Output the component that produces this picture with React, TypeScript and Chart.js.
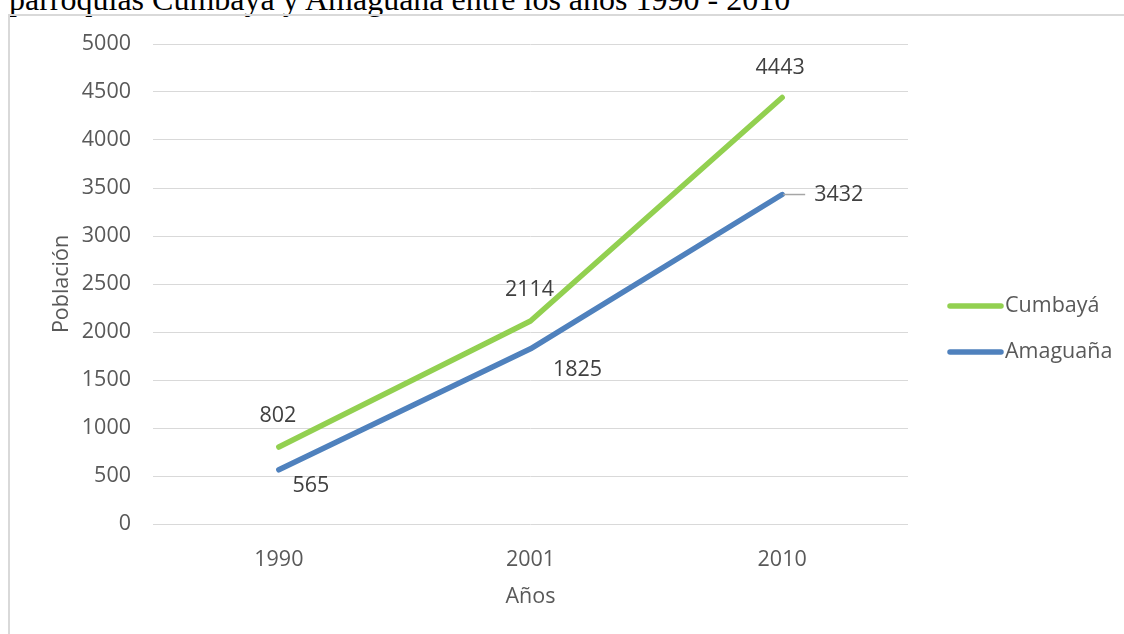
import React, { useEffect, useRef } from 'react';
import { Chart, registerables } from 'chart.js';

Chart.register(...registerables);

const years = ['1990', '2001', '2010'];
const cumbaya = [802, 2114, 4443];
const amaguana = [565, 1825, 3432];
const seriesNames = ['Cumbayá', 'Amaguaña'];
const seriesColors = ['#92D050', '#4F81BD'];
const yMin = 0;
const yMax = 5000;
const yStep = 500;
const yTitle = 'Población';
const xTitle = 'Años';
const titleText = 'parroquias Cumbayá y Amaguaña entre los años 1990 - 2010';

const FONT = '"Open Sans", sans-serif';
const FONT_SIZE = 21.5;
const AXIS_COLOR = '#595959';
const LABEL_COLOR = '#404040';

// label placement (style only): [dx, dy, align, leader]
const labelPlacement: any[][] = [
  [[-1, -31, 'center', false], [-1, -31, 'center', false], [-2, -30, 'center', false]],
  [[32, 16, 'center', false], [47, 21, 'center', false], [32, 0, 'left', true]],
];

const overlayPlugin = {
  id: 'overlay',
  afterDatasetsDraw(chart: any) {
    const ctx = chart.ctx;
    const area = chart.chartArea;
    ctx.save();
    ctx.font = `${FONT_SIZE}px ${FONT}`;
    ctx.textBaseline = 'middle';
    // data labels
    chart.data.datasets.forEach((ds: any, di: number) => {
      const meta = chart.getDatasetMeta(di);
      meta.data.forEach((pt: any, i: number) => {
        const [dx, dy, align, leader] = labelPlacement[di][i];
        const x = pt.x + dx;
        const y = pt.y + dy;
        if (leader) {
          ctx.strokeStyle = '#a6a6a6';
          ctx.lineWidth = 1.5;
          ctx.beginPath();
          ctx.moveTo(pt.x + 1, pt.y);
          ctx.lineTo(pt.x + 23, pt.y);
          ctx.stroke();
        }
        ctx.fillStyle = LABEL_COLOR;
        ctx.textAlign = align;
        ctx.fillText(String(ds.data[i]), x, y);
      });
    });
    // axis titles
    ctx.fillStyle = AXIS_COLOR;
    ctx.textAlign = 'center';
    ctx.fillText(xTitle, (area.left + area.right) / 2, 581);
    ctx.save();
    ctx.translate(52, (area.top + area.bottom) / 2);
    ctx.rotate(-Math.PI / 2);
    ctx.fillText(yTitle, 0, 0);
    ctx.restore();
    // legend
    const midY = (area.top + area.bottom) / 2;
    chart.data.datasets.forEach((ds: any, di: number) => {
      const ly = midY + 22 + di * 46;
      ctx.strokeStyle = ds.borderColor;
      ctx.lineWidth = 5.5;
      ctx.lineCap = 'round';
      ctx.beginPath();
      ctx.moveTo(area.right + 42, ly);
      ctx.lineTo(area.right + 93, ly);
      ctx.stroke();
      ctx.fillStyle = AXIS_COLOR;
      ctx.textAlign = 'left';
      ctx.fillText(ds.label, area.right + 97, ly);
    });
    ctx.restore();
  },
};

export default function App() {
  const ref = useRef<HTMLCanvasElement>(null);
  useEffect(() => {
    const chart = new Chart(ref.current!, {
      type: 'line',
      data: {
        labels: years,
        datasets: [
          {
            label: seriesNames[0],
            data: cumbaya,
            borderColor: seriesColors[0],
            backgroundColor: seriesColors[0],
            borderWidth: 5.5,
            borderCapStyle: 'round',
            borderJoinStyle: 'round',
            pointRadius: 0,
            tension: 0,
          },
          {
            label: seriesNames[1],
            data: amaguana,
            borderColor: seriesColors[1],
            backgroundColor: seriesColors[1],
            borderWidth: 5.5,
            borderCapStyle: 'round',
            borderJoinStyle: 'round',
            pointRadius: 0,
            tension: 0,
          },
        ],
      },
      options: {
        animation: false,
        responsive: false,
        maintainAspectRatio: false,
        layout: { autoPadding: false, padding: { left: 0, top: 28, right: 216, bottom: 0 } },
        plugins: {
          legend: { display: false },
          tooltip: { enabled: false },
          title: { display: false },
        },
        scales: {
          x: {
            type: 'category',
            offset: true,
            grid: { display: false },
            border: { display: false },
            ticks: {
              color: AXIS_COLOR,
              font: { family: FONT, size: FONT_SIZE },
              padding: 15,
              maxRotation: 0,
            },
            afterFit: (s: any) => {
              s.height = 110;
            },
          },
          y: {
            min: yMin,
            max: yMax,
            grid: { color: '#d9d9d9', lineWidth: 1, drawTicks: false },
            border: { display: false },
            ticks: {
              stepSize: yStep,
              color: AXIS_COLOR,
              font: { family: FONT, size: FONT_SIZE },
              padding: 22,
              callback: (v: any) => String(v),
            },
            afterFit: (s: any) => {
              s.width = 143;
              s.paddingTop = 0;
              s.paddingBottom = 0;
            },
          },
        },
      },
      plugins: [overlayPlugin],
    } as any);
    return () => chart.destroy();
  }, []);

  return (
    <div style={{ position: 'fixed', inset: 0, overflow: 'hidden', background: '#fff' }}>
      <div
        style={{
          position: 'absolute',
          left: 9,
          top: -17,
          fontFamily: '"Liberation Serif", "Times New Roman", serif',
          fontSize: 32,
          lineHeight: '32px',
          whiteSpace: 'nowrap',
          color: '#000',
        }}
      >
        {titleText}
      </div>
      <div
        style={{
          position: 'absolute',
          left: 8,
          top: 14,
          width: 1300,
          height: 800,
          border: '2px solid #d9d9d9',
          boxSizing: 'border-box',
        }}
      />
      <canvas
        ref={ref}
        width={1114}
        height={618}
        style={{ position: 'absolute', left: 10, top: 16, width: 1114, height: 618 }}
      />
    </div>
  );
}
